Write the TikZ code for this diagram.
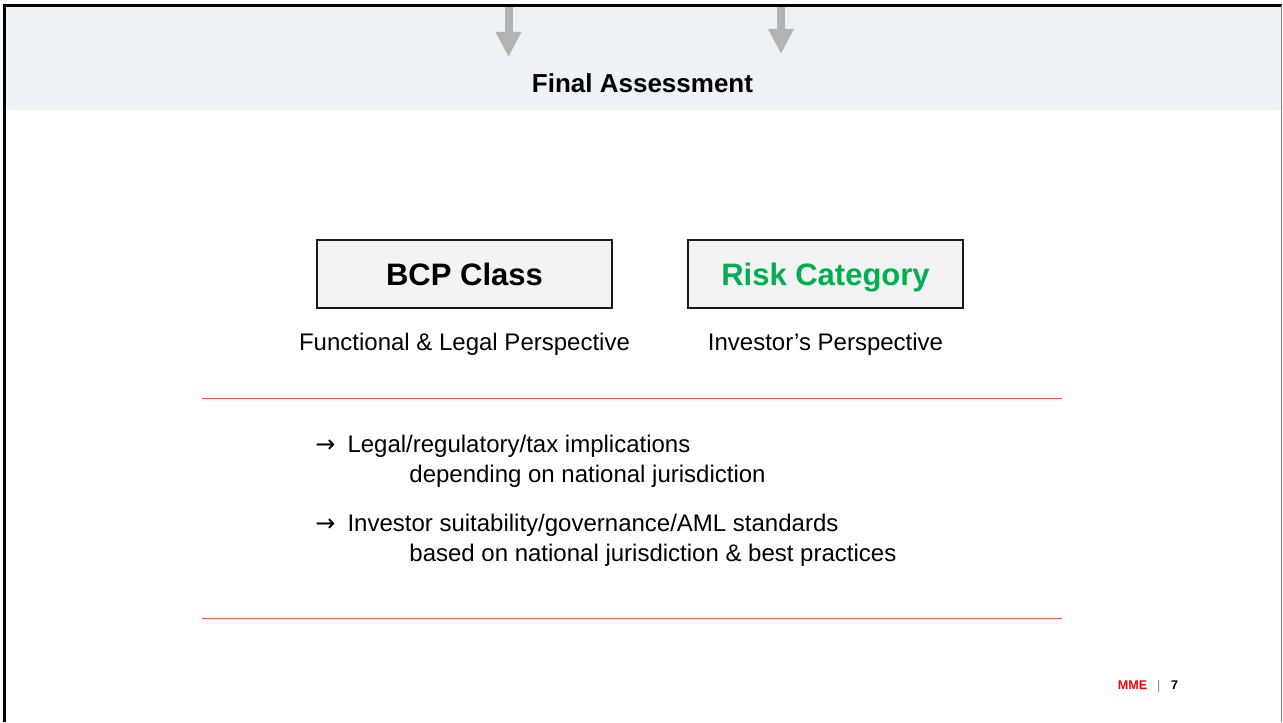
\documentclass[tikz,border=0pt]{standalone}
\usepackage{fontspec}
\setmainfont{Liberation Sans}
\newfontfamily\arrowfont{DejaVu Sans}
\usetikzlibrary{arrows.meta}
\definecolor{bandblue}{RGB}{237,242,247}
\definecolor{boxgray}{RGB}{243,243,243}
\definecolor{riskgreen}{RGB}{0,176,80}
\definecolor{rulered}{RGB}{255,80,80}
\definecolor{flowgray}{RGB}{178,178,178}
\newcommand{\implarrow}{{\arrowfont →}\hspace{6pt}}
\begin{document}
\begin{tikzpicture}[x=0.5pt,y=-0.5pt,
  every node/.style={inner sep=0pt},
  classbox/.style={draw=black!90,line width=1pt,fill=boxgray,minimum height=34pt,text depth=0pt,
    font=\fontsize{15.5}{18}\selectfont\bfseries},
  caption/.style={font=\fontsize{12}{14}\selectfont},
  flow/.style={draw=flowgray,line width=4pt,-{Triangle[width=12pt,length=12.5pt]}},
  rule/.style={draw=rulered,line width=0.6pt},
  footer/.style={font=\fontsize{6.3}{8}\selectfont\bfseries}]
  \useasboundingbox (0,0) rectangle (1283,722);
  \fill[bandblue] (5,6) rectangle (1282,110);
  \coordinate (inleft) at (508.5,6);
  \coordinate (inleft tip) at (508.5,57);
  \coordinate (inright) at (781,6);
  \coordinate (inright tip) at (781,54);
  \draw[flow] (inleft) -- (inleft tip);
  \draw[flow] (inright) -- (inright tip);
  \draw[line width=1.2pt] (4.5,722) -- (4.5,5.5) -- (1282,5.5);
  \draw[gray,line width=0.5pt] (1281.5,5.5) -- (1281.5,722);

  \node[anchor=base,font=\fontsize{13}{15}\selectfont\bfseries] (final) at (642.5,93) {Final Assessment};

  \node[classbox,minimum width=147.5pt] (bcp) at (464.5,274) {BCP Class};
  \node[classbox,minimum width=137.5pt,text=riskgreen] (risk) at (825.5,274) {Risk Category};
  \node[caption,anchor=base] (bcpview) at (464.5,350) {Functional \& Legal Perspective};
  \node[caption,anchor=base] (riskview) at (825.5,350) {Investor’s Perspective};

  \draw[rule] (202,398.5) -- (1062,398.5);
  \node[caption,anchor=base west] (legal) at (315,452) {\implarrow Legal/regulatory/tax implications};
  \node[caption,anchor=base west] (legal2) at (409,482) {depending on national jurisdiction};
  \node[caption,anchor=base west] (investor) at (315,531) {\implarrow Investor suitability/governance/AML standards};
  \node[caption,anchor=base west] (investor2) at (409,561) {based on national jurisdiction \& best practices};
  \draw[rule] (202,618.5) -- (1062,618.5);

  \node[footer,anchor=base west,text=red] (brand) at (1117.5,689) {MME};
  \node[footer,anchor=base west,text=gray,font=\fontsize{6.3}{8}\selectfont] (bar) at ([xshift=4.5pt]brand.base east) {|};
  \node[footer,anchor=base west] (page) at ([xshift=5pt]bar.base east) {7};
\end{tikzpicture}
\end{document}
